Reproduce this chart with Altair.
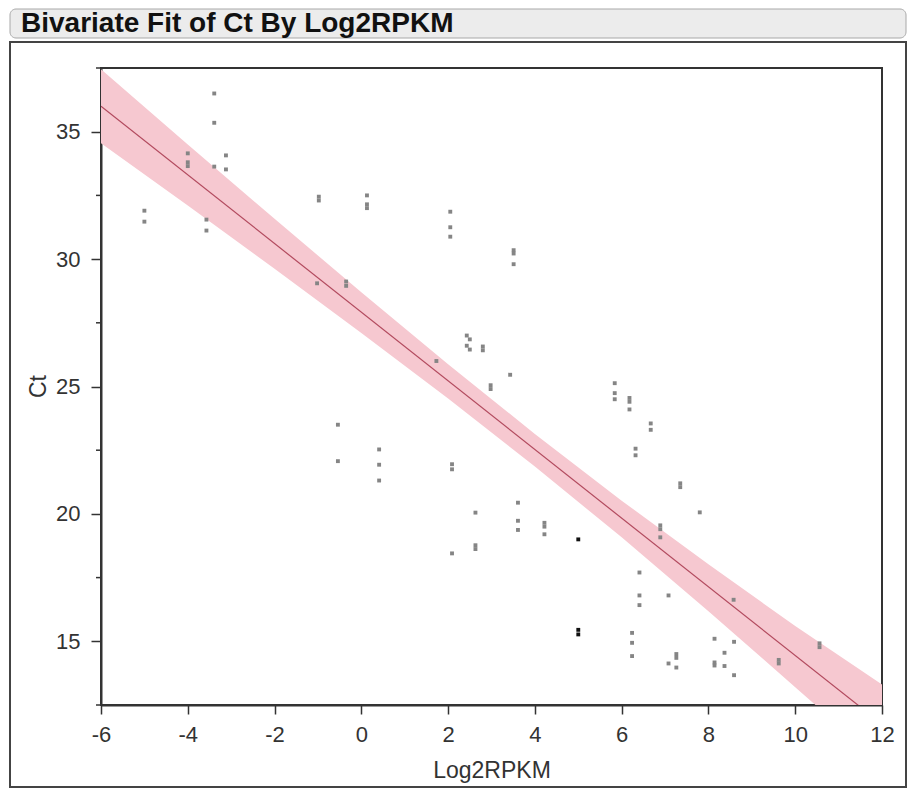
import altair as alt
import pandas as pd

TITLE = "Bivariate Fit of Ct By Log2RPKM"
X_TITLE = "Log2RPKM"
Y_TITLE = "Ct"

x_ticks = [-6, -4, -2, 0, 2, 4, 6, 8, 10, 12]
y_ticks = [15, 20, 25, 30, 35]
y_minor = [12.5, 17.5, 22.5, 27.5, 32.5, 37.5]

gray_x = [-5.0, -5.0,
          -4.0, -4.0, -4.0,
          -3.39, -3.39, -3.39,
          -3.12, -3.12,
          -3.57, -3.57,
          -0.98, -0.98,
          0.13, 0.13, 0.13,
          -1.02,
          -0.35, -0.35,
          -0.54, -0.54,
          0.41, 0.41, 0.41,
          2.05, 2.05, 2.05,
          3.51, 3.51, 3.51,
          2.43, 2.5, 2.43, 2.5,
          2.8, 2.8,
          1.73,
          3.43,
          2.98, 2.98,
          5.84, 5.84, 5.84,
          6.18, 6.18, 6.18,
          6.67, 6.67,
          6.32, 6.32,
          2.09, 2.09, 2.09,
          7.35, 7.35,
          7.8,
          2.63, 2.63, 2.63,
          3.61, 3.61, 3.61,
          4.22, 4.22, 4.22,
          6.89, 6.89, 6.89,
          6.41, 6.41, 6.41,
          7.08, 7.08,
          8.58,
          6.24, 6.24, 6.24,
          8.14, 8.14, 8.14,
          8.59, 8.59,
          8.37, 8.37,
          7.26, 7.26, 7.26,
          9.62, 9.62,
          10.56, 10.56]
gray_y = [31.9, 31.47,
          34.15, 33.8, 33.65,
          36.5, 35.35, 33.63,
          34.07, 33.52,
          31.55, 31.12,
          32.45, 32.3,
          32.5, 32.15, 32.0,
          29.05,
          29.12, 28.95,
          23.5, 22.07,
          22.53, 21.93, 21.31,
          31.86, 31.25, 30.88,
          30.35, 30.22, 29.8,
          27.0, 26.85, 26.6, 26.45,
          26.57, 26.42,
          26.0,
          25.46,
          25.05, 24.9,
          25.13, 24.74, 24.5,
          24.55, 24.4, 24.1,
          23.55, 23.3,
          22.56, 22.3,
          21.95, 21.75, 18.45,
          21.2, 21.05,
          20.06,
          20.05, 18.77, 18.62,
          20.44, 19.73, 19.37,
          19.65, 19.5, 19.2,
          19.55, 19.4, 19.08,
          17.7, 16.8, 16.42,
          16.8, 14.13,
          16.63,
          15.33, 14.94, 14.42,
          15.1, 14.17, 14.05,
          14.98, 13.67,
          14.55, 14.03,
          14.5, 14.35, 13.97,
          14.27, 14.13,
          14.92, 14.77]

black_x = [5.0, 5.0, 5.0]
black_y = [19.0, 15.45, 15.27]

fit_x = [-6, 12]
fit_y = [36.0, 11.75]

band_x = [-6, -4, -2, 0, 2, 4, 6, 8, 10, 12]
band_lo = [34.55, 32.1, 29.62, 27.1, 24.53, 21.86, 19.08, 16.18, 13.2, 10.2]
band_hi = [37.45, 34.5, 31.58, 28.7, 25.87, 23.14, 20.52, 18.02, 15.6, 13.3]

FONT = "Liberation Sans"
TXT = "#333333"
W, H = 781, 637

xs = alt.Scale(domain=[-6, 12], nice=False, zero=False)
ys = alt.Scale(domain=[12.5, 37.5], nice=False, zero=False)

x_axis = alt.Axis(values=x_ticks, labelExpr="'' + datum.value", grid=False,
                  labelFont=FONT, labelFontSize=22, labelColor=TXT, labelPadding=10,
                  labelFlush=False, tickSize=9, tickWidth=1.5, tickColor=TXT,
                  domainColor=TXT, domainWidth=2,
                  title=X_TITLE, titleFont=FONT, titleFontSize=23, titleFontWeight="normal",
                  titleColor=TXT, titleY=72, titleBaseline="alphabetic")
y_axis = alt.Axis(values=y_ticks, labelExpr="'' + datum.value", grid=False,
                  labelFont=FONT, labelFontSize=22, labelColor=TXT, labelPadding=11,
                  labelFlush=False, tickSize=10, tickWidth=1.5, tickColor=TXT,
                  domainColor=TXT, domainWidth=2,
                  title=Y_TITLE, titleFont=FONT, titleFontSize=23, titleFontWeight="normal",
                  titleColor=TXT, titleAngle=270, titleX=-56, titleY=318,
                  titleBaseline="alphabetic", titleAlign="center")

band_df = pd.DataFrame({"x": band_x, "y": band_lo, "y2": band_hi})
fit_df = pd.DataFrame({"x": fit_x, "y": fit_y})
gray_df = pd.DataFrame({"x": gray_x, "y": gray_y})
black_df = pd.DataFrame({"x": black_x, "y": black_y})
minor_df = pd.DataFrame({"y": y_minor})
one = pd.DataFrame({"a": [0]})

X = alt.X("x:Q", scale=xs, axis=x_axis)
Y = alt.Y("y:Q", scale=ys, axis=y_axis)

band = alt.Chart(band_df).mark_area(color="#f6c8d0", opacity=1, clip=True).encode(
    x=X, y=Y, y2="y2:Q")
fit = alt.Chart(fit_df).mark_line(color="#b24a5e", strokeWidth=1.2, clip=True).encode(x=X, y=Y)
gray = alt.Chart(gray_df).mark_square(size=15, color="#858585", opacity=1).encode(x=X, y=Y)
black = alt.Chart(black_df).mark_square(size=15, color="#111111", opacity=1).encode(x=X, y=Y)
minor = alt.Chart(minor_df).mark_rule(color=TXT, strokeWidth=1.5).encode(
    y=Y, x=alt.value(-5), x2=alt.value(0))

header = alt.Chart(one).mark_rect(cornerRadius=6, fill="#ececec", stroke="#a8a8a8",
                                  strokeWidth=1).encode(
    x=alt.value(-91), x2=alt.value(805), y=alt.value(-59), y2=alt.value(-30))
title = alt.Chart(one).mark_text(text=TITLE, align="left", baseline="middle", font=FONT,
                                 fontSize=28, fontWeight="bold", color="#111111").encode(
    x=alt.value(-80), y=alt.value(-44))
outer = alt.Chart(one).mark_rect(fillOpacity=0, stroke="#444444", strokeWidth=2).encode(
    x=alt.value(-91), x2=alt.value(805), y=alt.value(-26), y2=alt.value(719))

chart = alt.layer(outer, header, title, band, fit, gray, black, minor).properties(
    width=W, height=H,
    autosize=alt.AutoSizeParams(type="none"),
    padding={"left": 93, "top": 60, "right": 26, "bottom": 84},
    background="white",
).configure_view(stroke=TXT, strokeWidth=2)

chart.save("out.html", embed_options={"renderer": "svg", "actions": False})
